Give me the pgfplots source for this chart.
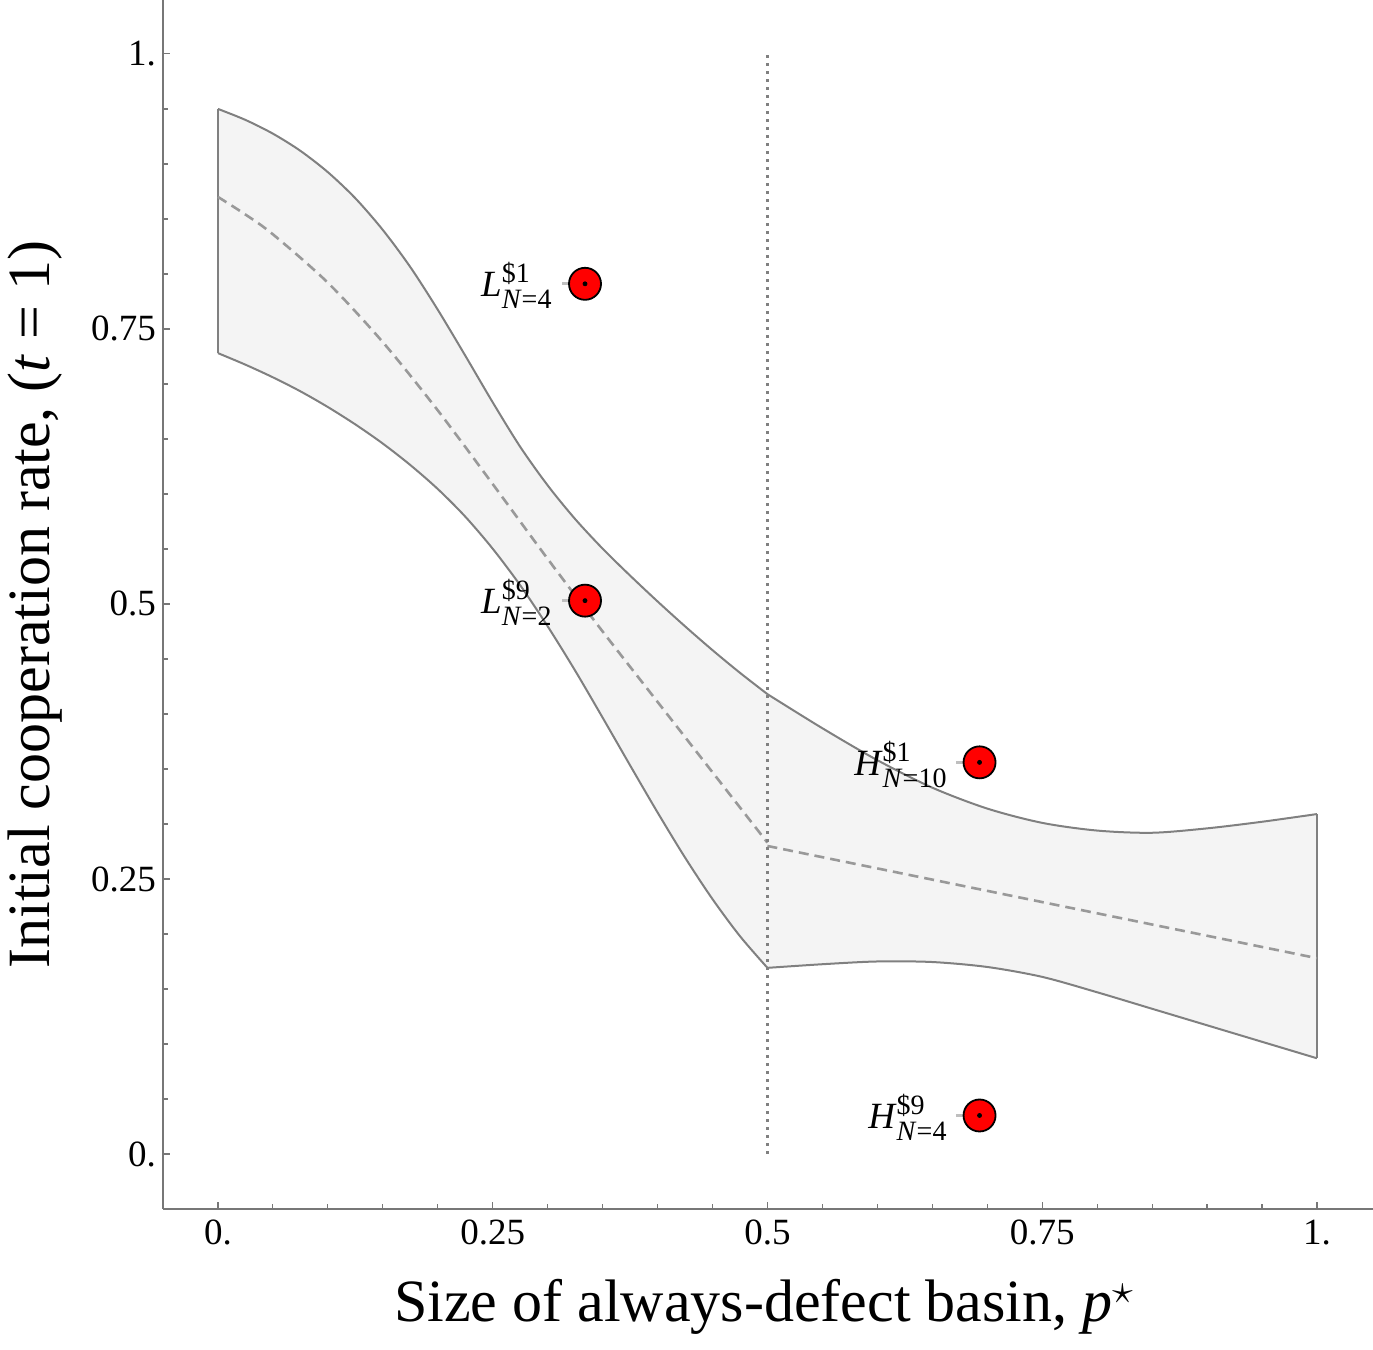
\documentclass[border=0pt]{standalone}
\usepackage{fontspec}
\setmainfont{Liberation Serif}
\usepackage{amsmath}
\usepackage{pgfplots}
\pgfplotsset{compat=1.18}
\definecolor{bandfill}{HTML}{F4F4F4}
\definecolor{edge}{HTML}{808080}
\definecolor{meanc}{HTML}{999999}
\definecolor{axc}{HTML}{777777}
\newcommand{\lab}[3]{\textit{#1}$^{\text{\fontsize{14}{14}\selectfont #2}}_{\text{\fontsize{14}{14}\selectfont\textit{N}=#3}}$}
\begin{document}
\begin{tikzpicture}
\begin{axis}[
  scale only axis, width=605pt, height=604.5pt,
  xmin=-0.05, xmax=1.051, ymin=-0.05, ymax=1.049,
  axis x line*=bottom, axis y line*=left,
  axis line style={axc, line width=0.7pt, -},
  tick style={axc, line width=0.6pt},
  tick align=inside,
  major tick length=3.5pt, minor tick length=2.5pt,
  xtick={0,0.25,0.5,0.75,1}, xticklabels={0.,0.25,0.5,0.75,1.},
  ytick={0,0.25,0.5,0.75,1}, yticklabels={0.,0.25,0.5,0.75,1.},
  minor x tick num=4, minor y tick num=4,
  /pgf/number format/assume math mode=true,
  ticklabel style={font=\fontsize{18.5}{22}\selectfont},
  xticklabel style={yshift=-2pt},
  label style={font=\fontsize{30}{35}\selectfont},
  xlabel={Size of always-defect basin, \textit{p}$^{\star}$},
  ylabel={Initial cooperation rate, (\textit{t} = 1)},
  xlabel style={at={(axis description cs:0.5,0)}, anchor=center, yshift=-49pt, xshift=-2pt},
  ylabel style={at={(axis description cs:0,0.5)}, anchor=center, yshift=64pt},
  clip=false,
]
% band fill
\addplot[draw=none, fill=bandfill] coordinates {
(0,0.950) (0.025,0.940) (0.05,0.9275) (0.075,0.9119) (0.1,0.8925) (0.125,0.8688) (0.15,0.8400) (0.175,0.8063) (0.2,0.7675) (0.225,0.7258) (0.25,0.6833) (0.275,0.6429) (0.3,0.6078) (0.325,0.5772) (0.35,0.5503) (0.375,0.5258) (0.4,0.5023) (0.425,0.4797) (0.45,0.4580) (0.475,0.4374) (0.5,0.4180)
(0.55,0.387) (0.6,0.358) (0.65,0.333) (0.7,0.314) (0.75,0.301) (0.8,0.294) (0.85,0.292) (0.9,0.296) (0.95,0.302) (1.0,0.309)
(1.0,0.087) (0.95,0.102) (0.9,0.117) (0.85,0.132) (0.8,0.147) (0.75,0.161) (0.7,0.170) (0.65,0.1745) (0.6,0.175) (0.55,0.1725) (0.5,0.1692)
(0.475,0.1980) (0.45,0.2317) (0.425,0.2695) (0.4,0.3105) (0.375,0.3533) (0.35,0.3967) (0.325,0.4394) (0.3,0.4797) (0.275,0.5170) (0.25,0.5502) (0.225,0.5794) (0.2,0.6045) (0.175,0.6263) (0.15,0.6458) (0.125,0.6632) (0.1,0.6790) (0.075,0.6933) (0.05,0.7060) (0.025,0.7175) (0,0.728) (0,0.950)};
% edges
\addplot[edge, line width=1pt, smooth] coordinates {
(0,0.950) (0.025,0.940) (0.05,0.9275) (0.075,0.9119) (0.1,0.8925) (0.125,0.8688) (0.15,0.8400) (0.175,0.8063) (0.2,0.7675) (0.225,0.7258) (0.25,0.6833) (0.275,0.6429) (0.3,0.6078) (0.325,0.5772) (0.35,0.5503) (0.375,0.5258) (0.4,0.5023) (0.425,0.4797) (0.45,0.4580) (0.475,0.4374) (0.5,0.4180)};
\addplot[edge, line width=1pt, smooth] coordinates {
(0.5,0.4180) (0.55,0.387) (0.6,0.358) (0.65,0.333) (0.7,0.314) (0.75,0.301) (0.8,0.294) (0.85,0.292) (0.9,0.296) (0.95,0.302) (1.0,0.309)};
\addplot[edge, line width=1pt, smooth] coordinates {
(0,0.728) (0.025,0.7175) (0.05,0.7060) (0.075,0.6933) (0.1,0.6790) (0.125,0.6632) (0.15,0.6458) (0.175,0.6263) (0.2,0.6045) (0.225,0.5794) (0.25,0.5502) (0.275,0.5170) (0.3,0.4797) (0.325,0.4394) (0.35,0.3967) (0.375,0.3533) (0.4,0.3105) (0.425,0.2695) (0.45,0.2317) (0.475,0.1980) (0.5,0.1692)};
\addplot[edge, line width=1pt, smooth] coordinates {
(0.5,0.1692) (0.55,0.1725) (0.6,0.175) (0.65,0.1745) (0.7,0.170) (0.75,0.161) (0.8,0.147) (0.85,0.132) (0.9,0.117) (0.95,0.102) (1.0,0.087)};
\addplot[edge, line width=1pt] coordinates {(0,0.728) (0,0.950)};
\addplot[edge, line width=1pt] coordinates {(1,0.087) (1,0.309)};
% mean (dashed)
\addplot[meanc, line width=1.3pt, dash pattern=on 5pt off 3pt, smooth] coordinates {
(0,0.870) (0.025,0.854) (0.05,0.836) (0.1,0.792) (0.15,0.738) (0.2,0.676) (0.25,0.609) (0.3,0.541) (0.35,0.475) (0.4,0.411) (0.45,0.347) (0.5,0.283)};
\addplot[meanc, line width=1.3pt, dash pattern=on 5pt off 3pt] coordinates {(0.5,0.280) (1.0,0.178)};
% threshold
\addplot[edge, line width=1.1pt, dash pattern=on 1.3pt off 2.7pt] coordinates {(0.5,0) (0.5,1)};
% points
\addplot[only marks, mark=*, mark size=8pt, mark options={fill=red, draw=black, line width=0.9pt}] coordinates {
(0.334,0.791) (0.334,0.503) (0.693,0.356) (0.693,0.035)};
\addplot[only marks, mark=*, mark size=1pt, mark options={fill=black, draw=black}] coordinates {
(0.334,0.791) (0.334,0.503) (0.693,0.356) (0.693,0.035)};
\addplot[draw=none, mark=none, error bars/.cd, x dir=minus, x explicit, error mark=none,
  error bar style={gray!50, line width=1.5pt}] coordinates {
(0.326,0.791) -= (0.013,0)
(0.326,0.503) -= (0.013,0)
(0.685,0.356) -= (0.013,0)
(0.685,0.035) -= (0.013,0)};
% labels
\node[anchor=base east, inner sep=0pt, font=\fontsize{18.5}{22}\selectfont] at (axis cs:0.3048,0.791) [yshift=-6.5pt] {\lab{L}{\$1}{4}};
\node[anchor=base east, inner sep=0pt, font=\fontsize{18.5}{22}\selectfont] at (axis cs:0.3048,0.503) [yshift=-6.5pt] {\lab{L}{\$9}{2}};
\node[anchor=base east, inner sep=0pt, font=\fontsize{18.5}{22}\selectfont] at (axis cs:0.6642,0.356) [yshift=-6.5pt] {\lab{H}{\$1}{10}};
\node[anchor=base east, inner sep=0pt, font=\fontsize{18.5}{22}\selectfont] at (axis cs:0.6642,0.035) [yshift=-6.5pt] {\lab{H}{\$9}{4}};
\end{axis}
\pgfresetboundingbox
\path[use as bounding box] (-81.5pt,-70.5pt) rectangle (605pt,604.5pt);
\end{tikzpicture}
\end{document}
